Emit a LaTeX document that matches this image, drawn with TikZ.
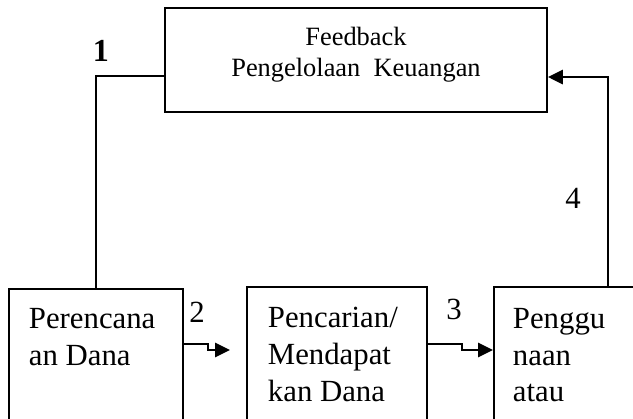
\documentclass[tikz,border=0pt]{standalone}
\usepackage{fontspec}
\setmainfont{Liberation Serif}
\usetikzlibrary{arrows.meta,calc}
\newcommand{\px}{0.39pt}

\begin{document}
\begin{tikzpicture}[x=\px,y=-\px,line width=0.75pt]
\tikzstyle{every node}=[inner sep=0pt]
\tikzstyle{box}=[draw, rectangle, anchor=north west, minimum height=250*\px]
\tikzstyle{boxtext}=[anchor=north west, align=left, font=\fontsize{12}{14.4}\selectfont]
\tikzstyle{num}=[font=\fontsize{12}{14.4}\selectfont]
\tikzstyle{flow}=[line width=1pt, -{Triangle[length=5.8pt, width=5.5pt]}]

\useasboundingbox (0,0) rectangle (633,419);
\clip (0,0) rectangle (633,419);

\node[draw, minimum width=382*\px, minimum height=104*\px] (fb) at (356,60) {};
\node[align=center, anchor=north, font=\fontsize{10.3}{12.1}\selectfont] (fbtext) at (356,26) {Feedback\\Pengelolaan\ \ Keuangan};

\node[box, minimum width=174*\px] (plan) at (8,288) {};
\node[boxtext] (plantext) at (28,307) {Perencana\\an Dana};
\node[box, minimum width=180*\px] (search) at (246,286) {};
\node[boxtext] (searchtext) at (267,306) {Pencarian/\\Mendapat\\kan Dana};
\node[box, minimum width=228*\px] (use) at (493,286) {};
\node[boxtext] (usetext) at (512,307) {Penggu\\naan\\atau};

\draw ($(fb.north west)+(0,69)$) -| (plan.north);
\draw[flow] (use.north) |- ($(fb.north east)+(0,70)$);
\draw[flow] ($(plan.north east)+(0,56)$) -- ++(24,0) |- ($(search.north west)+(-16,64)$);
\draw[flow] ($(search.north east)+(0,58)$) -- ++(34,0) |- ($(use.north west)+(0,64)$);

\node[font=\bfseries\fontsize{12.5}{15}\selectfont] (one) at (101,51) {1};
\node[num] (two) at (197,312) {2};
\node[num] (three) at (454,309) {3};
\node[num] (four) at (573,198) {4};

\end{tikzpicture}
\end{document}
